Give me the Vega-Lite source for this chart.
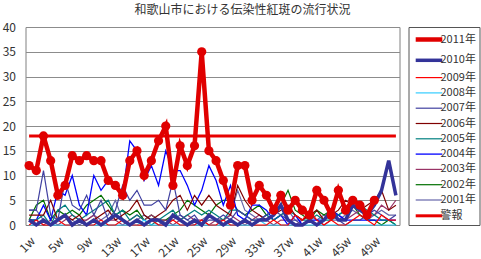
{
"$schema":"https://vega.github.io/schema/vega-lite/v6.json",
"autosize":{"type":"none"},
"width":374,"height":198,
"padding":{"left":25.5,"top":27,"right":81.5,"bottom":34},
"background":"white",
"title":{"text":"和歌山市における伝染性紅斑の流行状況","font":"Noto Sans CJK JP","fontSize":12,"fontWeight":"normal","color":"#333333","anchor":"middle","dx":30,"offset":4},
"config":{
 "view":{"stroke":"#808080","strokeWidth":1},
 "axis":{"labelFont":"Noto Sans CJK JP","labelColor":"#333333"},
 "legend":{"orient":"right","offset":5,"padding":3,"strokeColor":"#555555","symbolType":"M-1.9,0H1.9","symbolSize":196,"symbolOffset":8,"labelOffset":2,"rowPadding":2.3,"labelFont":"Noto Sans CJK JP","labelFontSize":11,"labelColor":"#333333","labelLimit":80}
},
"data":{"values":[
{"s":"2001年","w":1,"v":3},{"s":"2001年","w":2,"v":3},{"s":"2001年","w":3,"v":1},{"s":"2001年","w":4,"v":0},{"s":"2001年","w":5,"v":1},{"s":"2001年","w":6,"v":2},{"s":"2001年","w":7,"v":1},{"s":"2001年","w":8,"v":0},{"s":"2001年","w":9,"v":1},{"s":"2001年","w":10,"v":2},{"s":"2001年","w":11,"v":1},{"s":"2001年","w":12,"v":2},{"s":"2001年","w":13,"v":5},{"s":"2001年","w":14,"v":1},{"s":"2001年","w":15,"v":0},{"s":"2001年","w":16,"v":1},{"s":"2001年","w":17,"v":2},{"s":"2001年","w":18,"v":1},{"s":"2001年","w":19,"v":0},{"s":"2001年","w":20,"v":1},{"s":"2001年","w":21,"v":1},{"s":"2001年","w":22,"v":2},{"s":"2001年","w":23,"v":1},{"s":"2001年","w":24,"v":0},{"s":"2001年","w":25,"v":1},{"s":"2001年","w":26,"v":2},{"s":"2001年","w":27,"v":1},{"s":"2001年","w":28,"v":1},{"s":"2001年","w":29,"v":2},{"s":"2001年","w":30,"v":7},{"s":"2001年","w":31,"v":3},{"s":"2001年","w":32,"v":2},{"s":"2001年","w":33,"v":1},{"s":"2001年","w":34,"v":2},{"s":"2001年","w":35,"v":1},{"s":"2001年","w":36,"v":2},{"s":"2001年","w":37,"v":3},{"s":"2001年","w":38,"v":1},{"s":"2001年","w":39,"v":1},{"s":"2001年","w":40,"v":2},{"s":"2001年","w":41,"v":1},{"s":"2001年","w":42,"v":2},{"s":"2001年","w":43,"v":1},{"s":"2001年","w":44,"v":1},{"s":"2001年","w":45,"v":2},{"s":"2001年","w":46,"v":3},{"s":"2001年","w":47,"v":2},{"s":"2001年","w":48,"v":1},{"s":"2001年","w":49,"v":2},{"s":"2001年","w":50,"v":3},{"s":"2001年","w":51,"v":2},{"s":"2001年","w":52,"v":2},
{"s":"2002年","w":1,"v":1},{"s":"2002年","w":2,"v":4},{"s":"2002年","w":3,"v":5},{"s":"2002年","w":4,"v":1},{"s":"2002年","w":5,"v":3},{"s":"2002年","w":6,"v":2},{"s":"2002年","w":7,"v":3},{"s":"2002年","w":8,"v":2},{"s":"2002年","w":9,"v":4},{"s":"2002年","w":10,"v":5},{"s":"2002年","w":11,"v":6},{"s":"2002年","w":12,"v":4},{"s":"2002年","w":13,"v":2},{"s":"2002年","w":14,"v":3},{"s":"2002年","w":15,"v":2},{"s":"2002年","w":16,"v":3},{"s":"2002年","w":17,"v":1},{"s":"2002年","w":18,"v":2},{"s":"2002年","w":19,"v":1},{"s":"2002年","w":20,"v":1},{"s":"2002年","w":21,"v":2},{"s":"2002年","w":22,"v":3},{"s":"2002年","w":23,"v":5},{"s":"2002年","w":24,"v":4},{"s":"2002年","w":25,"v":3},{"s":"2002年","w":26,"v":2},{"s":"2002年","w":27,"v":4},{"s":"2002年","w":28,"v":5},{"s":"2002年","w":29,"v":5},{"s":"2002年","w":30,"v":3},{"s":"2002年","w":31,"v":2},{"s":"2002年","w":32,"v":3},{"s":"2002年","w":33,"v":4},{"s":"2002年","w":34,"v":2},{"s":"2002年","w":35,"v":3},{"s":"2002年","w":36,"v":4},{"s":"2002年","w":37,"v":7},{"s":"2002年","w":38,"v":3},{"s":"2002年","w":39,"v":2},{"s":"2002年","w":40,"v":1},{"s":"2002年","w":41,"v":3},{"s":"2002年","w":42,"v":2},{"s":"2002年","w":43,"v":3},{"s":"2002年","w":44,"v":2},{"s":"2002年","w":45,"v":3},{"s":"2002年","w":46,"v":4},{"s":"2002年","w":47,"v":2},{"s":"2002年","w":48,"v":1},{"s":"2002年","w":49,"v":1},{"s":"2002年","w":50,"v":0},{"s":"2002年","w":51,"v":1},{"s":"2002年","w":52,"v":0},
{"s":"2003年","w":1,"v":1},{"s":"2003年","w":2,"v":1},{"s":"2003年","w":3,"v":0},{"s":"2003年","w":4,"v":1},{"s":"2003年","w":5,"v":0},{"s":"2003年","w":6,"v":1},{"s":"2003年","w":7,"v":2},{"s":"2003年","w":8,"v":1},{"s":"2003年","w":9,"v":1},{"s":"2003年","w":10,"v":2},{"s":"2003年","w":11,"v":0},{"s":"2003年","w":12,"v":1},{"s":"2003年","w":13,"v":1},{"s":"2003年","w":14,"v":0},{"s":"2003年","w":15,"v":1},{"s":"2003年","w":16,"v":2},{"s":"2003年","w":17,"v":1},{"s":"2003年","w":18,"v":2},{"s":"2003年","w":19,"v":1},{"s":"2003年","w":20,"v":1},{"s":"2003年","w":21,"v":0},{"s":"2003年","w":22,"v":1},{"s":"2003年","w":23,"v":2},{"s":"2003年","w":24,"v":1},{"s":"2003年","w":25,"v":1},{"s":"2003年","w":26,"v":0},{"s":"2003年","w":27,"v":1},{"s":"2003年","w":28,"v":1},{"s":"2003年","w":29,"v":2},{"s":"2003年","w":30,"v":1},{"s":"2003年","w":31,"v":0},{"s":"2003年","w":32,"v":1},{"s":"2003年","w":33,"v":2},{"s":"2003年","w":34,"v":1},{"s":"2003年","w":35,"v":0},{"s":"2003年","w":36,"v":1},{"s":"2003年","w":37,"v":1},{"s":"2003年","w":38,"v":0},{"s":"2003年","w":39,"v":1},{"s":"2003年","w":40,"v":2},{"s":"2003年","w":41,"v":1},{"s":"2003年","w":42,"v":0},{"s":"2003年","w":43,"v":1},{"s":"2003年","w":44,"v":2},{"s":"2003年","w":45,"v":1},{"s":"2003年","w":46,"v":2},{"s":"2003年","w":47,"v":3},{"s":"2003年","w":48,"v":2},{"s":"2003年","w":49,"v":2},{"s":"2003年","w":50,"v":4},{"s":"2003年","w":51,"v":3},{"s":"2003年","w":52,"v":5},
{"s":"2004年","w":1,"v":1},{"s":"2004年","w":2,"v":1},{"s":"2004年","w":3,"v":4},{"s":"2004年","w":4,"v":1},{"s":"2004年","w":5,"v":7},{"s":"2004年","w":6,"v":6},{"s":"2004年","w":7,"v":10},{"s":"2004年","w":8,"v":4},{"s":"2004年","w":9,"v":2},{"s":"2004年","w":10,"v":10},{"s":"2004年","w":11,"v":7},{"s":"2004年","w":12,"v":9},{"s":"2004年","w":13,"v":8},{"s":"2004年","w":14,"v":6},{"s":"2004年","w":15,"v":17},{"s":"2004年","w":16,"v":15},{"s":"2004年","w":17,"v":9},{"s":"2004年","w":18,"v":12},{"s":"2004年","w":19,"v":8},{"s":"2004年","w":20,"v":15},{"s":"2004年","w":21,"v":11},{"s":"2004年","w":22,"v":11},{"s":"2004年","w":23,"v":8},{"s":"2004年","w":24,"v":4},{"s":"2004年","w":25,"v":7},{"s":"2004年","w":26,"v":12},{"s":"2004年","w":27,"v":9},{"s":"2004年","w":28,"v":4},{"s":"2004年","w":29,"v":8},{"s":"2004年","w":30,"v":2},{"s":"2004年","w":31,"v":1},{"s":"2004年","w":32,"v":4},{"s":"2004年","w":33,"v":4},{"s":"2004年","w":34,"v":3},{"s":"2004年","w":35,"v":1},{"s":"2004年","w":36,"v":2},{"s":"2004年","w":37,"v":0},{"s":"2004年","w":38,"v":2},{"s":"2004年","w":39,"v":0},{"s":"2004年","w":40,"v":1},{"s":"2004年","w":41,"v":1},{"s":"2004年","w":42,"v":1},{"s":"2004年","w":43,"v":3},{"s":"2004年","w":44,"v":2},{"s":"2004年","w":45,"v":1},{"s":"2004年","w":46,"v":1},{"s":"2004年","w":47,"v":1},{"s":"2004年","w":48,"v":1},{"s":"2004年","w":49,"v":1},{"s":"2004年","w":50,"v":1},{"s":"2004年","w":51,"v":1},{"s":"2004年","w":52,"v":1},
{"s":"2005年","w":1,"v":1},{"s":"2005年","w":2,"v":1},{"s":"2005年","w":3,"v":2},{"s":"2005年","w":4,"v":0},{"s":"2005年","w":5,"v":3},{"s":"2005年","w":6,"v":4},{"s":"2005年","w":7,"v":2},{"s":"2005年","w":8,"v":1},{"s":"2005年","w":9,"v":2},{"s":"2005年","w":10,"v":3},{"s":"2005年","w":11,"v":4},{"s":"2005年","w":12,"v":5},{"s":"2005年","w":13,"v":2},{"s":"2005年","w":14,"v":3},{"s":"2005年","w":15,"v":1},{"s":"2005年","w":16,"v":2},{"s":"2005年","w":17,"v":1},{"s":"2005年","w":18,"v":0},{"s":"2005年","w":19,"v":1},{"s":"2005年","w":20,"v":2},{"s":"2005年","w":21,"v":3},{"s":"2005年","w":22,"v":1},{"s":"2005年","w":23,"v":2},{"s":"2005年","w":24,"v":3},{"s":"2005年","w":25,"v":2},{"s":"2005年","w":26,"v":3},{"s":"2005年","w":27,"v":2},{"s":"2005年","w":28,"v":1},{"s":"2005年","w":29,"v":3},{"s":"2005年","w":30,"v":3},{"s":"2005年","w":31,"v":2},{"s":"2005年","w":32,"v":1},{"s":"2005年","w":33,"v":1},{"s":"2005年","w":34,"v":2},{"s":"2005年","w":35,"v":1},{"s":"2005年","w":36,"v":2},{"s":"2005年","w":37,"v":3},{"s":"2005年","w":38,"v":2},{"s":"2005年","w":39,"v":1},{"s":"2005年","w":40,"v":1},{"s":"2005年","w":41,"v":2},{"s":"2005年","w":42,"v":1},{"s":"2005年","w":43,"v":1},{"s":"2005年","w":44,"v":2},{"s":"2005年","w":45,"v":3},{"s":"2005年","w":46,"v":4},{"s":"2005年","w":47,"v":4},{"s":"2005年","w":48,"v":3},{"s":"2005年","w":49,"v":2},{"s":"2005年","w":50,"v":1},{"s":"2005年","w":51,"v":1},{"s":"2005年","w":52,"v":0},
{"s":"2006年","w":1,"v":2},{"s":"2006年","w":2,"v":2},{"s":"2006年","w":3,"v":2},{"s":"2006年","w":4,"v":5},{"s":"2006年","w":5,"v":1},{"s":"2006年","w":6,"v":2},{"s":"2006年","w":7,"v":1},{"s":"2006年","w":8,"v":2},{"s":"2006年","w":9,"v":0},{"s":"2006年","w":10,"v":1},{"s":"2006年","w":11,"v":2},{"s":"2006年","w":12,"v":3},{"s":"2006年","w":13,"v":1},{"s":"2006年","w":14,"v":2},{"s":"2006年","w":15,"v":3},{"s":"2006年","w":16,"v":5},{"s":"2006年","w":17,"v":2},{"s":"2006年","w":18,"v":1},{"s":"2006年","w":19,"v":2},{"s":"2006年","w":20,"v":3},{"s":"2006年","w":21,"v":5},{"s":"2006年","w":22,"v":6},{"s":"2006年","w":23,"v":3},{"s":"2006年","w":24,"v":6},{"s":"2006年","w":25,"v":4},{"s":"2006年","w":26,"v":6},{"s":"2006年","w":27,"v":4},{"s":"2006年","w":28,"v":3},{"s":"2006年","w":29,"v":2},{"s":"2006年","w":30,"v":8},{"s":"2006年","w":31,"v":5},{"s":"2006年","w":32,"v":3},{"s":"2006年","w":33,"v":2},{"s":"2006年","w":34,"v":1},{"s":"2006年","w":35,"v":2},{"s":"2006年","w":36,"v":3},{"s":"2006年","w":37,"v":4},{"s":"2006年","w":38,"v":2},{"s":"2006年","w":39,"v":1},{"s":"2006年","w":40,"v":2},{"s":"2006年","w":41,"v":3},{"s":"2006年","w":42,"v":1},{"s":"2006年","w":43,"v":2},{"s":"2006年","w":44,"v":3},{"s":"2006年","w":45,"v":5},{"s":"2006年","w":46,"v":4},{"s":"2006年","w":47,"v":3},{"s":"2006年","w":48,"v":4},{"s":"2006年","w":49,"v":5},{"s":"2006年","w":50,"v":7},{"s":"2006年","w":51,"v":3},{"s":"2006年","w":52,"v":4},
{"s":"2007年","w":1,"v":3},{"s":"2007年","w":2,"v":3},{"s":"2007年","w":3,"v":11},{"s":"2007年","w":4,"v":2},{"s":"2007年","w":5,"v":1},{"s":"2007年","w":6,"v":9},{"s":"2007年","w":7,"v":4},{"s":"2007年","w":8,"v":3},{"s":"2007年","w":9,"v":6},{"s":"2007年","w":10,"v":2},{"s":"2007年","w":11,"v":5},{"s":"2007年","w":12,"v":1},{"s":"2007年","w":13,"v":3},{"s":"2007年","w":14,"v":8},{"s":"2007年","w":15,"v":5},{"s":"2007年","w":16,"v":7},{"s":"2007年","w":17,"v":4},{"s":"2007年","w":18,"v":4},{"s":"2007年","w":19,"v":5},{"s":"2007年","w":20,"v":3},{"s":"2007年","w":21,"v":9},{"s":"2007年","w":22,"v":2},{"s":"2007年","w":23,"v":1},{"s":"2007年","w":24,"v":2},{"s":"2007年","w":25,"v":0},{"s":"2007年","w":26,"v":1},{"s":"2007年","w":27,"v":1},{"s":"2007年","w":28,"v":2},{"s":"2007年","w":29,"v":1},{"s":"2007年","w":30,"v":3},{"s":"2007年","w":31,"v":2},{"s":"2007年","w":32,"v":1},{"s":"2007年","w":33,"v":1},{"s":"2007年","w":34,"v":2},{"s":"2007年","w":35,"v":3},{"s":"2007年","w":36,"v":2},{"s":"2007年","w":37,"v":1},{"s":"2007年","w":38,"v":1},{"s":"2007年","w":39,"v":0},{"s":"2007年","w":40,"v":1},{"s":"2007年","w":41,"v":0},{"s":"2007年","w":42,"v":1},{"s":"2007年","w":43,"v":2},{"s":"2007年","w":44,"v":1},{"s":"2007年","w":45,"v":0},{"s":"2007年","w":46,"v":1},{"s":"2007年","w":47,"v":1},{"s":"2007年","w":48,"v":2},{"s":"2007年","w":49,"v":3},{"s":"2007年","w":50,"v":2},{"s":"2007年","w":51,"v":1},{"s":"2007年","w":52,"v":2},
{"s":"2008年","w":1,"v":0},{"s":"2008年","w":2,"v":0},{"s":"2008年","w":3,"v":1},{"s":"2008年","w":4,"v":0},{"s":"2008年","w":5,"v":0},{"s":"2008年","w":6,"v":0},{"s":"2008年","w":7,"v":0},{"s":"2008年","w":8,"v":1},{"s":"2008年","w":9,"v":0},{"s":"2008年","w":10,"v":0},{"s":"2008年","w":11,"v":0},{"s":"2008年","w":12,"v":0},{"s":"2008年","w":13,"v":0},{"s":"2008年","w":14,"v":0},{"s":"2008年","w":15,"v":0},{"s":"2008年","w":16,"v":0},{"s":"2008年","w":17,"v":1},{"s":"2008年","w":18,"v":0},{"s":"2008年","w":19,"v":0},{"s":"2008年","w":20,"v":0},{"s":"2008年","w":21,"v":0},{"s":"2008年","w":22,"v":0},{"s":"2008年","w":23,"v":0},{"s":"2008年","w":24,"v":0},{"s":"2008年","w":25,"v":0},{"s":"2008年","w":26,"v":0},{"s":"2008年","w":27,"v":0},{"s":"2008年","w":28,"v":0},{"s":"2008年","w":29,"v":0},{"s":"2008年","w":30,"v":0},{"s":"2008年","w":31,"v":0},{"s":"2008年","w":32,"v":0},{"s":"2008年","w":33,"v":1},{"s":"2008年","w":34,"v":0},{"s":"2008年","w":35,"v":0},{"s":"2008年","w":36,"v":0},{"s":"2008年","w":37,"v":0},{"s":"2008年","w":38,"v":0},{"s":"2008年","w":39,"v":0},{"s":"2008年","w":40,"v":0},{"s":"2008年","w":41,"v":0},{"s":"2008年","w":42,"v":0},{"s":"2008年","w":43,"v":0},{"s":"2008年","w":44,"v":0},{"s":"2008年","w":45,"v":0},{"s":"2008年","w":46,"v":0},{"s":"2008年","w":47,"v":0},{"s":"2008年","w":48,"v":0},{"s":"2008年","w":49,"v":0},{"s":"2008年","w":50,"v":0},{"s":"2008年","w":51,"v":0},{"s":"2008年","w":52,"v":0},
{"s":"2009年","w":1,"v":0},{"s":"2009年","w":2,"v":1},{"s":"2009年","w":3,"v":0},{"s":"2009年","w":4,"v":0},{"s":"2009年","w":5,"v":1},{"s":"2009年","w":6,"v":0},{"s":"2009年","w":7,"v":0},{"s":"2009年","w":8,"v":1},{"s":"2009年","w":9,"v":0},{"s":"2009年","w":10,"v":0},{"s":"2009年","w":11,"v":1},{"s":"2009年","w":12,"v":0},{"s":"2009年","w":13,"v":0},{"s":"2009年","w":14,"v":1},{"s":"2009年","w":15,"v":0},{"s":"2009年","w":16,"v":0},{"s":"2009年","w":17,"v":0},{"s":"2009年","w":18,"v":1},{"s":"2009年","w":19,"v":0},{"s":"2009年","w":20,"v":0},{"s":"2009年","w":21,"v":1},{"s":"2009年","w":22,"v":0},{"s":"2009年","w":23,"v":0},{"s":"2009年","w":24,"v":0},{"s":"2009年","w":25,"v":1},{"s":"2009年","w":26,"v":0},{"s":"2009年","w":27,"v":0},{"s":"2009年","w":28,"v":1},{"s":"2009年","w":29,"v":0},{"s":"2009年","w":30,"v":0},{"s":"2009年","w":31,"v":1},{"s":"2009年","w":32,"v":0},{"s":"2009年","w":33,"v":0},{"s":"2009年","w":34,"v":0},{"s":"2009年","w":35,"v":1},{"s":"2009年","w":36,"v":0},{"s":"2009年","w":37,"v":0},{"s":"2009年","w":38,"v":2},{"s":"2009年","w":39,"v":1},{"s":"2009年","w":40,"v":3},{"s":"2009年","w":41,"v":1},{"s":"2009年","w":42,"v":0},{"s":"2009年","w":43,"v":1},{"s":"2009年","w":44,"v":0},{"s":"2009年","w":45,"v":0},{"s":"2009年","w":46,"v":1},{"s":"2009年","w":47,"v":2},{"s":"2009年","w":48,"v":1},{"s":"2009年","w":49,"v":0},{"s":"2009年","w":50,"v":2},{"s":"2009年","w":51,"v":1},{"s":"2009年","w":52,"v":1},
{"s":"2010年","w":1,"v":1},{"s":"2010年","w":2,"v":0},{"s":"2010年","w":3,"v":1},{"s":"2010年","w":4,"v":0},{"s":"2010年","w":5,"v":1},{"s":"2010年","w":6,"v":2},{"s":"2010年","w":7,"v":0},{"s":"2010年","w":8,"v":1},{"s":"2010年","w":9,"v":0},{"s":"2010年","w":10,"v":1},{"s":"2010年","w":11,"v":0},{"s":"2010年","w":12,"v":1},{"s":"2010年","w":13,"v":2},{"s":"2010年","w":14,"v":1},{"s":"2010年","w":15,"v":0},{"s":"2010年","w":16,"v":1},{"s":"2010年","w":17,"v":0},{"s":"2010年","w":18,"v":1},{"s":"2010年","w":19,"v":1},{"s":"2010年","w":20,"v":0},{"s":"2010年","w":21,"v":2},{"s":"2010年","w":22,"v":1},{"s":"2010年","w":23,"v":0},{"s":"2010年","w":24,"v":1},{"s":"2010年","w":25,"v":0},{"s":"2010年","w":26,"v":2},{"s":"2010年","w":27,"v":1},{"s":"2010年","w":28,"v":0},{"s":"2010年","w":29,"v":1},{"s":"2010年","w":30,"v":0},{"s":"2010年","w":31,"v":1},{"s":"2010年","w":32,"v":0},{"s":"2010年","w":33,"v":1},{"s":"2010年","w":34,"v":1},{"s":"2010年","w":35,"v":2},{"s":"2010年","w":36,"v":4},{"s":"2010年","w":37,"v":1},{"s":"2010年","w":38,"v":0},{"s":"2010年","w":39,"v":0},{"s":"2010年","w":40,"v":1},{"s":"2010年","w":41,"v":0},{"s":"2010年","w":42,"v":1},{"s":"2010年","w":43,"v":3},{"s":"2010年","w":44,"v":1},{"s":"2010年","w":45,"v":1},{"s":"2010年","w":46,"v":4},{"s":"2010年","w":47,"v":3},{"s":"2010年","w":48,"v":2},{"s":"2010年","w":49,"v":4},{"s":"2010年","w":50,"v":7},{"s":"2010年","w":51,"v":13},{"s":"2010年","w":52,"v":6},
{"s":"警報","w":1,"v":18},{"s":"警報","w":2,"v":18},{"s":"警報","w":3,"v":18},{"s":"警報","w":4,"v":18},{"s":"警報","w":5,"v":18},{"s":"警報","w":6,"v":18},{"s":"警報","w":7,"v":18},{"s":"警報","w":8,"v":18},{"s":"警報","w":9,"v":18},{"s":"警報","w":10,"v":18},{"s":"警報","w":11,"v":18},{"s":"警報","w":12,"v":18},{"s":"警報","w":13,"v":18},{"s":"警報","w":14,"v":18},{"s":"警報","w":15,"v":18},{"s":"警報","w":16,"v":18},{"s":"警報","w":17,"v":18},{"s":"警報","w":18,"v":18},{"s":"警報","w":19,"v":18},{"s":"警報","w":20,"v":18},{"s":"警報","w":21,"v":18},{"s":"警報","w":22,"v":18},{"s":"警報","w":23,"v":18},{"s":"警報","w":24,"v":18},{"s":"警報","w":25,"v":18},{"s":"警報","w":26,"v":18},{"s":"警報","w":27,"v":18},{"s":"警報","w":28,"v":18},{"s":"警報","w":29,"v":18},{"s":"警報","w":30,"v":18},{"s":"警報","w":31,"v":18},{"s":"警報","w":32,"v":18},{"s":"警報","w":33,"v":18},{"s":"警報","w":34,"v":18},{"s":"警報","w":35,"v":18},{"s":"警報","w":36,"v":18},{"s":"警報","w":37,"v":18},{"s":"警報","w":38,"v":18},{"s":"警報","w":39,"v":18},{"s":"警報","w":40,"v":18},{"s":"警報","w":41,"v":18},{"s":"警報","w":42,"v":18},{"s":"警報","w":43,"v":18},{"s":"警報","w":44,"v":18},{"s":"警報","w":45,"v":18},{"s":"警報","w":46,"v":18},{"s":"警報","w":47,"v":18},{"s":"警報","w":48,"v":18},{"s":"警報","w":49,"v":18},{"s":"警報","w":50,"v":18},{"s":"警報","w":51,"v":18},{"s":"警報","w":52,"v":18},
{"s":"2011年","w":1,"v":12},{"s":"2011年","w":2,"v":11},{"s":"2011年","w":3,"v":18},{"s":"2011年","w":4,"v":13},{"s":"2011年","w":5,"v":6},{"s":"2011年","w":6,"v":8},{"s":"2011年","w":7,"v":14},{"s":"2011年","w":8,"v":13},{"s":"2011年","w":9,"v":14},{"s":"2011年","w":10,"v":13},{"s":"2011年","w":11,"v":13},{"s":"2011年","w":12,"v":9},{"s":"2011年","w":13,"v":8},{"s":"2011年","w":14,"v":6},{"s":"2011年","w":15,"v":13},{"s":"2011年","w":16,"v":15},{"s":"2011年","w":17,"v":10},{"s":"2011年","w":18,"v":13},{"s":"2011年","w":19,"v":17},{"s":"2011年","w":20,"v":20},{"s":"2011年","w":21,"v":8},{"s":"2011年","w":22,"v":16},{"s":"2011年","w":23,"v":12},{"s":"2011年","w":24,"v":16},{"s":"2011年","w":25,"v":35},{"s":"2011年","w":26,"v":15},{"s":"2011年","w":27,"v":13},{"s":"2011年","w":28,"v":9},{"s":"2011年","w":29,"v":4},{"s":"2011年","w":30,"v":12},{"s":"2011年","w":31,"v":12},{"s":"2011年","w":32,"v":5},{"s":"2011年","w":33,"v":8},{"s":"2011年","w":34,"v":6},{"s":"2011年","w":35,"v":3},{"s":"2011年","w":36,"v":6},{"s":"2011年","w":37,"v":3},{"s":"2011年","w":38,"v":5},{"s":"2011年","w":39,"v":3},{"s":"2011年","w":40,"v":2},{"s":"2011年","w":41,"v":7},{"s":"2011年","w":42,"v":5},{"s":"2011年","w":43,"v":2},{"s":"2011年","w":44,"v":7},{"s":"2011年","w":45,"v":3},{"s":"2011年","w":46,"v":5},{"s":"2011年","w":47,"v":4},{"s":"2011年","w":48,"v":2},{"s":"2011年","w":49,"v":5}
]},
"encoding":{
 "x":{"field":"w","type":"quantitative","scale":{"domain":[0.5,52.5],"nice":false,"zero":false},
  "axis":{"title":null,"values":[1,5,9,13,17,21,25,29,33,37,41,45,49],"labelExpr":"datum.value + 'w'","labelAngle":-45,"grid":false,"ticks":false,"domainColor":"#808080","labelFontSize":12,"labelPadding":10}},
 "y":{"field":"v","type":"quantitative","scale":{"domain":[0,40],"nice":false},
  "axis":{"title":null,"values":[0,5,10,15,20,25,30,35,40],"grid":true,"gridColor":"#8c8c8c","gridOpacity":1,"ticks":false,"domain":false,"labelPadding":10,"labelFontSize":12}},
 "color":{"field":"s","type":"nominal","title":null,
  "scale":{"domain":["2011年","2010年","2009年","2008年","2007年","2006年","2005年","2004年","2003年","2002年","2001年","警報"],
   "range":["#E00000","#333399","#FF0000","#33CCFF","#4040A0","#800000","#008080","#0000FF","#993366","#007000","#6666AA","#E80000"]}},
 "strokeWidth":{"field":"s","type":"nominal","title":null,
  "scale":{"type":"ordinal","domain":["2011年","2010年","2009年","2008年","2007年","2006年","2005年","2004年","2003年","2002年","2001年","警報"],
   "range":[4.5,3.5,1.2,1.2,1.2,1.2,1.2,1.3,1.2,1.2,1.2,3]}}
},
"layer":[
 {"transform":[{"filter":"datum.s !== '2011年'"}],"mark":{"type":"line"}},
 {"transform":[{"filter":"datum.s === '2011年'"}],"mark":{"type":"line"}},
 {"transform":[{"filter":"datum.s === '2011年'"}],"mark":{"type":"point","filled":true,"size":85,"opacity":1},
  "encoding":{"color":{"value":"#E00000"},"strokeWidth":{"value":0}}}
]
}
